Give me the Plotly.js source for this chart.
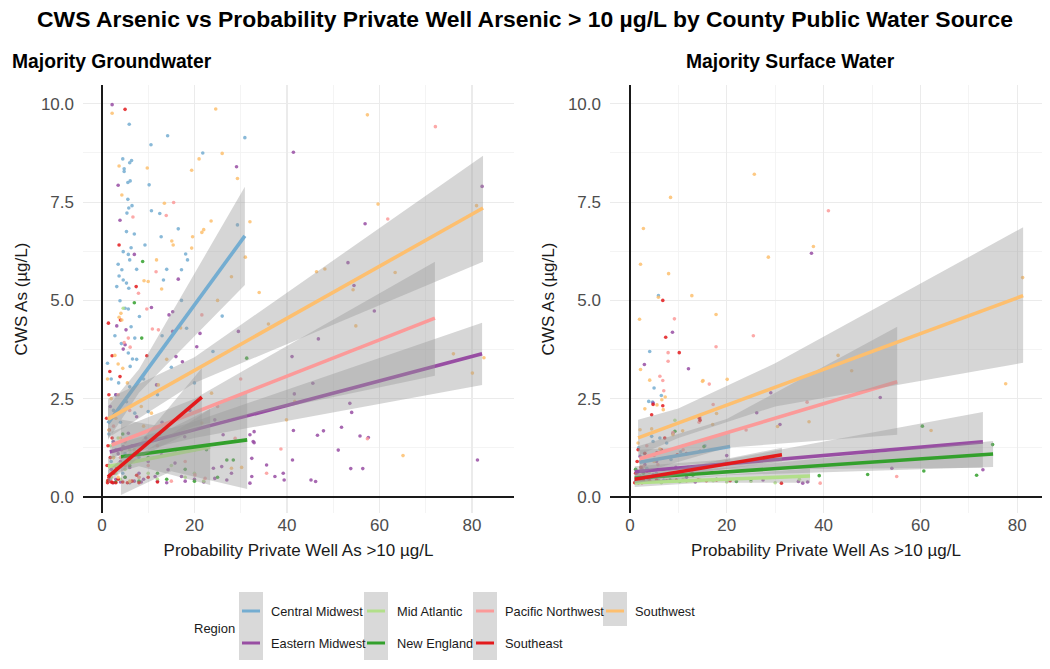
<!DOCTYPE html>
<html><head><meta charset="utf-8">
<script src="https://cdn.plot.ly/plotly-3.0.1.min.js"></script>
<style>html,body{margin:0;padding:0;background:#fff;}#chart{width:1050px;height:669px;}</style>
</head><body><div id="chart"></div>
<script>
// ---------- categories ----------
const regions = ["Central Midwest","Eastern Midwest","Mid Atlantic","New England","Pacific Northwest","Southeast","Southwest"];
const regionColors = ["#74ADD1","#984EA3","#B2DF8A","#33A02C","#FB9A99","#E31A1C","#FDBF6F"];
const panelTitles = ["Majority Groundwater","Majority Surface Water"];
const xTicks = [0,20,40,60,80];

// ---------- fitted lines (x ends, y ends), per region ----------
const gwLineX = [[1.3,30.9],[1.7,82.2],[1.3,23.4],[4.1,31.4],[2.1,72],[1.3,21.6],[1.3,82.4]];
const gwLineY = [[1.87,6.64],[1.14,3.64],[0.77,1.27],[1.02,1.45],[1.32,4.55],[0.51,2.54],[1.98,7.35]];
const gwBandX = [[1.3,8,30.9],[1.7,20,82.2],[1.3,8,23.4],[4.1,15,31.4],[2.1,20,72],[1.3,8,21.6],[1.3,20,82.4]];
const gwBandLo = [[1.45,2.65,5.39],[0.98,1.5,2.85],[0.55,0.78,0.3],[0.05,0.65,0.2],[0.98,1.8,3.08],[0.35,1.0,1.8],[1.5,2.9,5.98]];
const gwBandHi = [[2.3,3.25,7.89],[1.3,1.92,4.43],[1.0,1.06,2.24],[1.97,1.75,2.7],[1.66,2.5,5.98],[0.67,1.36,3.28],[2.5,3.55,8.68]];

const swLineX = [[2.0,20.7],[1.0,72.9],[1.0,37.2],[1.0,75],[2.0,55.2],[1.0,31.4],[1.7,81.2]];
const swLineY = [[0.88,1.28],[0.64,1.4],[0.36,0.53],[0.48,1.09],[0.97,2.93],[0.45,1.07],[1.5,5.12]];
const swBandX = [[2.0,10,20.7],[1.0,20,72.9],[1.0,15,37.2],[1.0,20,75],[2.0,20,55.2],[1.0,10,31.4],[1.7,10,30,81.2]];
const swBandLo = [[0.55,0.8,0.9],[0.5,0.7,0.74],[0.25,0.36,0.36],[0.36,0.55,0.76],[0.6,1.25,1.58],[0.35,0.55,0.9],[1.05,1.5,2.3,3.41]];
const swBandHi = [[1.2,1.25,1.65],[0.78,0.95,2.16],[0.47,0.52,0.72],[0.6,0.74,1.42],[1.3,1.98,4.33],[0.55,0.72,1.25],[1.96,2.25,3.4,6.86]];

// ---------- points (x = probability %, y = CWS As) ----------
const gw_CM = [[5.9,9.48],[14.2,9.19],[30.9,9.14],[10.6,8.96],[21.8,8.75],[4.5,8.6],[6.4,8.56],[6.0,8.5],[4.8,8.35],[4.8,8.28],[6.1,8.04],[5.6,8.0],[10.2,7.94],[5.6,7.57],[6.5,7.41],[5.8,7.35],[5.4,7.22],[10.7,7.28],[12.5,7.21],[29.3,6.92],[5.3,6.75],[7.0,6.69],[16.5,6.82],[12.8,6.62],[9.3,6.41],[6.3,6.34],[4.6,6.24],[5.7,6.17],[6.0,6.03],[18.1,6.18],[18.5,6.03],[14.0,5.79],[17.2,5.78],[3.5,5.92],[4.3,5.78],[7.5,5.79],[3.7,5.62],[4.6,5.52],[5.3,5.44],[3.2,5.35],[5.8,5.31],[13.3,5.52],[3.9,4.99],[5.0,4.8],[5.7,4.78],[6.3,4.33],[8.1,4.59],[18.3,4.29],[7.1,4.04],[5.7,3.66],[7.5,3.5],[6.1,3.32],[6.6,3.51],[17.2,5.0],[10.0,2.17],[7.1,2.13],[5.3,2.42],[2.0,3.0],[3.0,2.6],[2.5,2.2],[4.0,1.9],[1.5,1.6],[3.0,1.2],[2.0,0.9],[4.5,0.6],[1.8,0.45],[8.0,1.0],[6.0,2.8],[1.2,3.4],[2.8,4.1],[9.0,3.0],[12.0,2.6],[15.0,3.3],[20.0,2.9],[24.0,3.7],[26.0,4.6],[13.0,4.1],[3.6,2.9],[4.2,3.9],[2.4,1.4],[5.0,1.1]];
const gw_EM = [[2.2,9.98],[29.1,8.4],[3.5,7.93],[3.9,7.04],[7.0,6.17],[16.5,5.54],[10.7,4.82],[14.5,4.63],[15.3,4.71],[3.2,4.35],[5.2,4.25],[15.3,4.21],[21.2,4.16],[5.0,3.87],[4.6,3.76],[16.0,3.57],[20.5,3.82],[41.4,8.77],[82.2,7.9],[56.9,6.95],[53.2,5.96],[54.5,5.38],[58.9,4.73],[46.8,4.02],[41.1,3.57],[45.6,2.89],[41.6,2.62],[53.6,2.38],[54.0,2.15],[41.4,1.69],[51.8,1.77],[47.9,1.68],[46.6,1.57],[55.8,1.55],[57.6,1.51],[51.1,1.19],[41.2,0.94],[81.2,0.94],[53.8,0.72],[56.4,0.72],[39.4,0.43],[45.2,0.43],[46.2,0.39],[29.5,4.21],[17.4,3.44],[26.2,1.58],[32.0,1.58],[32.7,1.41],[35.6,0.81],[39.2,0.6],[37.4,0.52],[32.0,0.35],[24.1,0.73],[24.4,0.47],[27.0,0.43],[32.9,1.66],[32.9,1.38],[32.4,0.98],[32.4,0.52],[28.0,0.6],[25.9,0.77],[17.9,1.53],[20.1,1.2],[24.4,1.96],[12.9,1.07],[15.8,0.86],[14.3,0.69],[11.5,0.52],[17.2,0.52],[11.8,2.85],[7.5,2.04],[5.7,1.62],[4.6,1.28],[1.5,0.4],[3.0,0.45],[5.0,0.5],[7.0,0.4],[9.0,0.45],[2.0,0.7],[4.0,0.9],[6.0,0.75],[8.0,0.6],[10.0,0.9],[3.5,1.1],[2.5,1.4],[6.5,1.3],[9.5,1.5],[1.8,2.3],[3.0,2.6],[8.5,0.38],[12.0,0.4],[14.0,0.36],[18.0,0.4],[20.0,0.45],[22.0,0.38],[4.0,0.38],[2.5,0.36],[6.0,0.36],[13.0,1.9],[19.0,2.2]];
const gw_MA = [[1.2,0.4],[2.0,0.5],[3.0,0.6],[1.5,0.8],[2.5,1.0],[4.0,0.45],[5.0,0.7],[6.0,0.38],[7.0,0.9],[8.0,0.5],[10.0,0.6],[12.0,0.45],[15.0,0.8],[18.0,0.5],[20.0,0.6],[22.0,0.4],[1.8,1.3],[3.5,1.5],[6.0,1.2],[9.0,1.1],[4.6,4.8],[2.8,2.1]];
const gw_NE = [[8.8,5.99],[7.0,4.94],[8.6,4.04],[31.3,3.53],[27.0,0.94],[28.4,0.94],[22.6,1.2],[5.0,0.5],[6.0,0.8],[8.0,0.4],[10.0,1.0],[12.0,0.6],[14.0,0.45],[16.0,1.2],[18.0,0.7],[20.0,0.4],[25.0,0.5],[4.5,1.6],[7.0,1.1],[3.0,0.38],[12.5,1.6]];
const gw_PNW = [[15.5,7.49],[13.9,7.16],[6.7,7.12],[11.7,5.73],[7.9,5.18],[9.7,4.78],[10.9,4.27],[12.2,4.25],[21.6,4.63],[5.7,4.04],[4.8,3.93],[6.1,3.81],[72.1,9.42],[61.8,7.07],[57.4,1.48],[38.7,1.22],[35.6,0.6],[28.8,1.49],[20.1,0.56],[22.3,0.47],[2.0,0.4],[3.0,0.7],[4.0,1.0],[5.0,1.4],[2.5,1.8],[6.0,2.2],[3.5,2.6],[8.0,0.5],[10.0,0.8],[12.0,1.3],[15.0,0.4],[18.0,0.9],[9.0,3.1],[25.0,2.3],[30.0,3.0]];
const gw_SE = [[5.0,9.86],[3.7,6.41],[7.4,5.35],[1.4,4.42],[4.0,4.5],[9.7,3.59],[2.2,3.59],[1.7,3.19],[3.9,3.06],[1.2,0.36],[2.0,0.38],[3.0,0.36],[1.5,0.5],[2.5,0.6],[1.1,0.8],[1.8,1.0],[3.5,0.45],[4.5,0.38],[5.5,0.36],[6.5,0.4],[8.0,0.36],[1.3,1.3],[2.2,1.5],[1.0,2.0],[2.8,2.1],[1.5,2.6],[4.2,1.2],[6.0,0.9],[3.2,0.75],[7.5,0.55],[1.3,0.42],[2.3,0.36],[10.0,0.5],[12.0,0.38],[1.6,1.7]];
const gw_SW = [[2.2,9.76],[24.6,9.87],[26.0,8.74],[21.0,8.6],[3.7,8.42],[9.8,8.37],[19.4,8.31],[29.3,8.1],[4.3,7.68],[13.5,7.47],[23.6,7.02],[21.6,6.73],[22.0,6.8],[15.1,6.51],[15.4,6.41],[19.6,6.62],[19.4,6.33],[11.8,6.03],[9.1,5.5],[10.0,5.48],[12.9,5.29],[4.1,4.67],[3.7,4.57],[4.3,4.5],[3.5,3.38],[4.5,3.27],[57.4,9.72],[59.7,7.45],[81.0,7.41],[46.4,5.73],[48.2,5.8],[63.4,5.71],[54.3,5.27],[54.9,4.35],[76.0,3.64],[82.6,3.54],[80.1,3.15],[41.7,2.43],[39.9,1.96],[65.1,1.05],[28.0,0.73],[30.2,0.75],[23.7,2.64],[21.6,1.88],[12.2,2.85],[10.7,2.13],[2.0,2.5],[3.0,2.0],[1.5,1.7],[4.0,1.5],[2.5,1.0],[5.0,0.8],[3.5,0.5],[6.0,0.4],[7.0,1.2],[8.5,2.3],[1.2,3.0],[2.8,3.6],[5.5,2.9],[9.0,1.8],[14.0,3.5],[17.0,4.3],[25.0,5.0],[28.0,5.6],[31.0,6.1],[34.0,5.2],[36.0,4.4],[32.0,7.0]];

const sw_CM = [[5.9,5.12],[4.1,3.7],[5.0,2.77],[6.5,2.58],[3.9,2.43],[4.7,2.41],[4.5,1.54],[4.8,1.41],[6.2,1.5],[7.6,1.37],[2.1,0.65],[3.5,0.73],[3.0,1.1],[2.5,0.9],[5.5,0.6],[1.8,1.25],[8.5,0.95],[10.5,1.15],[12.0,0.75],[15.5,1.3],[2.6,0.45],[7.0,0.42]];
const sw_EM = [[37.5,6.2],[8.8,4.19],[3.0,3.37],[12.1,3.26],[4.8,2.39],[29.1,2.65],[51.7,2.53],[54.1,0.73],[72.9,0.69],[34.8,0.39],[35.7,0.35],[36.7,0.38],[26.2,2.14],[31.0,1.84],[8.9,1.61],[4.8,0.56],[6.9,0.52],[11.7,0.5],[22.0,0.45],[27.5,0.43],[2.1,1.03],[3.1,0.82],[1.5,0.6],[2.5,0.7],[5.5,0.9],[9.5,0.75],[13.5,0.38],[17.0,0.62],[1.2,0.4],[3.8,0.45],[20.0,1.05]];
const sw_MA = [[9.3,1.95],[8.9,0.41],[14.5,0.43],[17.2,0.41],[1.5,0.36],[2.5,0.42],[3.5,0.38],[5.0,0.5],[6.5,0.36],[11.0,0.45],[20.0,0.38],[25.0,0.4],[30.0,0.36],[35.0,0.45],[4.0,0.62],[2.0,0.55],[12.5,0.6]];
const sw_NE = [[60.4,1.8],[74.9,1.33],[49.1,0.57],[60.7,0.66],[71.6,0.55],[39.1,0.54],[9.3,1.67],[15.3,1.28],[8.3,0.43],[10.3,0.39],[17.9,0.45],[22.0,0.39],[1.5,0.45],[3.0,0.38],[4.5,0.5],[6.0,0.4],[13.0,0.55],[25.0,0.45],[1.2,0.7],[2.8,0.6]];
const sw_PNW = [[41.0,7.28],[9.2,4.53],[25.5,4.1],[7.9,3.67],[17.8,3.82],[7.9,3.45],[6.2,3.07],[6.8,2.96],[16.4,2.87],[7.0,2.7],[17.2,2.35],[36.6,2.41],[55.1,0.52],[39.3,0.35],[14.5,2.01],[14.3,1.9],[2.1,0.9],[2.8,0.77],[5.8,0.82],[8.9,1.64],[3.5,1.3],[5.0,1.05],[11.0,1.2],[1.5,0.5],[4.0,0.4],[20.0,0.9],[24.0,1.7]];
const sw_SE = [[6.8,5.0],[7.4,4.06],[10.2,3.67],[6.8,2.32],[4.8,2.35],[14.5,1.95],[1.7,1.2],[3.1,1.11],[5.6,1.13],[6.5,1.2],[9.8,1.07],[11.7,1.1],[14.5,1.16],[1.4,0.43],[2.1,0.41],[2.8,0.43],[4.1,0.41],[5.5,0.43],[7.6,0.41],[9.6,0.43],[11.7,0.41],[14.1,0.43],[15.8,0.41],[17.9,0.43],[20.7,0.41],[31.3,0.35],[4.5,2.09],[7.2,1.5],[14.3,2.01],[1.2,0.6],[2.3,0.75],[1.5,0.9],[3.5,0.65],[1.0,0.36],[1.8,0.36],[2.5,0.36],[12.9,0.6]];
const sw_SW = [[25.7,8.21],[8.4,7.62],[2.8,6.83],[2.2,5.92],[28.6,6.1],[8.0,5.68],[5.9,5.08],[12.8,5.12],[2.0,4.52],[17.8,4.64],[2.2,3.24],[4.1,2.97],[15.1,2.96],[20.1,2.99],[7.3,2.54],[6.6,2.47],[5.6,2.34],[37.9,6.37],[81.1,5.58],[43.0,3.6],[45.8,3.21],[77.6,2.88],[37.0,1.91],[62.2,1.69],[3.1,2.24],[6.9,2.22],[17.1,1.84],[17.9,2.12],[4.5,1.73],[8.9,1.58],[10.9,1.68],[1.7,1.37],[6.2,1.22],[2.1,1.71],[15.0,2.94],[30.5,1.79],[3.0,0.5],[5.0,0.9],[1.5,0.42],[10.0,0.6]];

const gwPoints = [gw_CM, gw_EM, gw_MA, gw_NE, gw_PNW, gw_SE, gw_SW];
const swPoints = [sw_CM, sw_EM, sw_MA, sw_NE, sw_PNW, sw_SE, sw_SW];

// ---------- layout geometry ----------
const W = 1050, H = 669;
const M = {l:83, r:8, t:85, b:156};
const PW = W - M.l - M.r, PH = H - M.t - M.b;
const px2p = px => (px - M.l) / PW;
const py2p = py => (H - M.b - py) / PH;

const FONT = "Liberation Sans, Arial, sans-serif";
const BAND = "rgba(153,153,153,0.4)";

const traces = [];
function addPanel(pts, lx, ly, bx, blo, bhi, xa, ya) {
  pts.forEach((arr, i) => {
    traces.push({type:"scatter", mode:"markers", xaxis:xa, yaxis:ya,
      x: arr.map(d=>d[0]), y: arr.map(d=>d[1]),
      marker:{color:regionColors[i], size:3.6, opacity:0.85},
      hoverinfo:"skip", showlegend:false});
  });
  regions.forEach((r, i) => {
    traces.push({type:"scatter", mode:"lines", xaxis:xa, yaxis:ya,
      x: bx[i].concat(bx[i].slice().reverse()),
      y: bhi[i].concat(blo[i].slice().reverse()),
      fill:"toself", fillcolor:BAND, line:{width:0, color:BAND},
      hoverinfo:"skip", showlegend:false});
    traces.push({type:"scatter", mode:"lines", xaxis:xa, yaxis:ya, name:r,
      x: lx[i], y: ly[i], line:{color:regionColors[i], width:3.6},
      showlegend:false});
  });
}
addPanel(gwPoints, gwLineX, gwLineY, gwBandX, gwBandLo, gwBandHi, "x", "y");
addPanel(swPoints, swLineX, swLineY, swBandX, swBandLo, swBandHi, "x2", "y2");

const xTitle = "Probability Private Well As >10 µg/L";
const yTitle = "CWS As (µg/L)";
function xAxis(domain, range, anchor) {
  return {domain, range, anchor, tickvals:xTicks, ticktext:xTicks.map(String),
    showgrid:true, gridcolor:"#ebebeb", gridwidth:1.2,
    minor:{dtick:10, tick0:0, showgrid:true, gridcolor:"#f1f1f1", gridwidth:0.8},
    zeroline:true, zerolinecolor:"#1a1a1a", zerolinewidth:2.2,
    showline:false, ticks:"", tickfont:{family:FONT, size:17, color:"#4d4d4d"},
    title:{text:xTitle, font:{family:FONT, size:17, color:"#1a1a1a"}, standoff:10},
    fixedrange:true};
}
function yAxis(anchor) {
  return {domain:[0,1], range:[-0.41,10.48], anchor, dtick:2.5, tick0:0, tickformat:".1f",
    showgrid:true, gridcolor:"#ebebeb", gridwidth:1.2,
    minor:{dtick:1.25, tick0:0, showgrid:true, gridcolor:"#f1f1f1", gridwidth:0.8},
    zeroline:true, zerolinecolor:"#1a1a1a", zerolinewidth:2.2,
    showline:false, ticks:"", ticklabelstandoff:8,
    tickfont:{family:FONT, size:17, color:"#4d4d4d"},
    title:{text:yTitle, font:{family:FONT, size:17, color:"#1a1a1a"}, standoff:8},
    fixedrange:true};
}

// ---------- manual legend (ggplot style keys) ----------
const keyCols = [[239,263],[364,388],[473,497],[603,627]];
const keyRows = [611,643];
const labelX = [269,395,503,633];
const legendSlots = [[0,0],[0,1],[1,0],[1,1],[2,0],[2,1],[3,0]];
const shapes = [];
const annotations = [];
keyCols.forEach((c, ci) => {
  const rowsUsed = legendSlots.filter(s => s[0]===ci).length;
  shapes.push({type:"rect", xref:"paper", yref:"paper", layer:"above",
    x0:px2p(c[0]), x1:px2p(c[1]), y0:py2p(592), y1:py2p(592 + 34*rowsUsed),
    fillcolor:"#d9d9d9", line:{width:0}});
});
regions.forEach((r, i) => {
  const [ci, ri] = legendSlots[i];
  const c = keyCols[ci], yy = keyRows[ri];
  shapes.push({type:"line", xref:"paper", yref:"paper", layer:"above",
    x0:px2p(c[0]+3), x1:px2p(c[1]-3), y0:py2p(yy), y1:py2p(yy),
    line:{color:regionColors[i], width:3}});
  annotations.push({xref:"paper", yref:"paper", x:px2p(labelX[ci]), y:py2p(yy),
    xanchor:"left", yanchor:"middle", showarrow:false, text:r,
    font:{family:FONT, size:12.8, color:"#1a1a1a"}});
});
annotations.push({xref:"paper", yref:"paper", x:px2p(192), y:py2p(628),
  xanchor:"left", yanchor:"middle", showarrow:false, text:"Region",
  font:{family:FONT, size:13, color:"#1a1a1a"}});
annotations.push({xref:"paper", yref:"paper", x:px2p(10), y:py2p(62), xanchor:"left", yanchor:"middle",
  showarrow:false, text:"<b>"+panelTitles[0]+"</b>", font:{family:FONT, size:19.3, color:"#000"}});
annotations.push({xref:"paper", yref:"paper", x:px2p(684), y:py2p(62), xanchor:"left", yanchor:"middle",
  showarrow:false, text:"<b>"+panelTitles[1]+"</b>", font:{family:FONT, size:19.3, color:"#000"}});

const layout = {
  width:W, height:H, margin:M, paper_bgcolor:"#fff", plot_bgcolor:"#fff",
  title:{text:"<b>CWS Arsenic vs Probability Private Well Arsenic > 10 µg/L by County Public Water Source</b>",
    x:0.5, xref:"container", xanchor:"center", y:1-19/H, yref:"container", yanchor:"middle",
    font:{family:FONT, size:22.9, color:"#000"}},
  showlegend:false,
  xaxis: xAxis([0, px2p(514)], [-4.1, 89.1], "y"),
  yaxis: yAxis("x"),
  xaxis2: xAxis([px2p(610), 1], [-4.1, 85.1], "y2"),
  yaxis2: yAxis("x2"),
  shapes, annotations
};
Plotly.newPlot("chart", traces, layout, {staticPlot:true, displayModeBar:false});
</script></body></html>
